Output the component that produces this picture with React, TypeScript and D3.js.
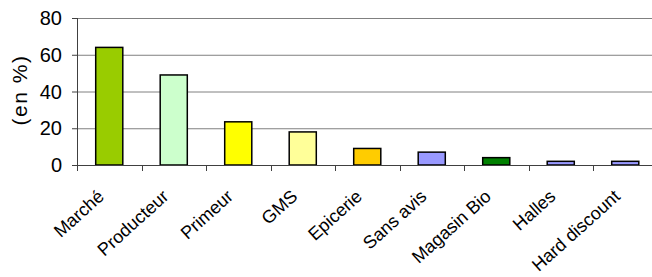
import React, { useRef, useEffect } from 'react';
import * as d3 from 'd3';

const categories = ['Marché', 'Producteur', 'Primeur', 'GMS', 'Epicerie', 'Sans avis', 'Magasin Bio', 'Halles', 'Hard discount'];
const values = [64, 49, 23.5, 18, 9, 7, 4, 2, 2];
const colors = ['#99cc00', '#ccffcc', '#ffff00', '#ffff99', '#ffcc00', '#9999ff', '#008000', '#9999ff', '#9999ff'];
const yTicks = [0, 20, 40, 60, 80];

const W = 652;
const H = 277;
const FONT = 'Arial, "Liberation Sans", sans-serif';

function App() {
    const ref = useRef<SVGSVGElement | null>(null);

    useEffect(() => {
        if (!ref.current) return;
        const svg = d3.select(ref.current);
        svg.selectAll('*').remove();

        const left = 77, right = 657.5, top = 18, bottom = 165;

        const x = d3.scaleBand<string>().domain(categories).range([left, right]);
        const y = d3.scaleLinear().domain([0, 80]).range([bottom, top]);

        // gridlines
        svg.append('g')
            .selectAll('line')
            .data(yTicks.filter(t => t > 0))
            .enter().append('line')
            .attr('x1', left).attr('x2', W)
            .attr('y1', d => y(d) + 0.5).attr('y2', d => y(d) + 0.5)
            .attr('stroke', '#808080').attr('stroke-width', 1);

        // bars
        const bw = x.bandwidth() * 0.42;
        svg.append('g')
            .selectAll('rect')
            .data(categories)
            .enter().append('rect')
            .attr('x', d => (x(d) as number) + (x.bandwidth() - bw) / 2)
            .attr('y', (d, i) => y(values[i]))
            .attr('width', bw)
            .attr('height', (d, i) => y(0) - y(values[i]))
            .attr('fill', (d, i) => colors[i])
            .attr('stroke', '#000').attr('stroke-width', 1.5);

        // y axis
        const yAxis = svg.append('g');
        yAxis.append('line')
            .attr('x1', left + 0.5).attr('x2', left + 0.5)
            .attr('y1', top).attr('y2', bottom)
            .attr('stroke', '#404040');
        yAxis.selectAll('line.tick')
            .data(yTicks)
            .enter().append('line')
            .attr('class', 'tick')
            .attr('x1', left - 5).attr('x2', left)
            .attr('y1', d => y(d) + 0.5).attr('y2', d => y(d) + 0.5)
            .attr('stroke', '#404040');
        yAxis.selectAll('text')
            .data(yTicks)
            .enter().append('text')
            .attr('x', 62).attr('y', d => y(d))
            .attr('dy', '0.36em')
            .attr('text-anchor', 'end')
            .style('font-family', FONT).style('font-size', '20px')
            .text(d => d);

        // y title
        svg.append('text')
            .attr('transform', `translate(27,90) rotate(-90)`)
            .attr('text-anchor', 'middle')
            .style('font-family', FONT).style('font-size', '21px')
            .style('letter-spacing', '1.5px')
            .text('(en %)');

        // x axis
        const xAxis = svg.append('g');
        xAxis.append('line')
            .attr('x1', left).attr('x2', W)
            .attr('y1', bottom + 0.5).attr('y2', bottom + 0.5)
            .attr('stroke', '#404040');
        xAxis.selectAll('line.tick')
            .data(categories)
            .enter().append('line')
            .attr('class', 'tick')
            .attr('x1', d => Math.round(x(d) as number) + 0.5).attr('x2', d => Math.round(x(d) as number) + 0.5)
            .attr('y1', bottom).attr('y2', bottom + 6)
            .attr('stroke', '#404040');
        xAxis.selectAll('text')
            .data(categories)
            .enter().append('text')
            .attr('transform', d => `translate(${(x(d) as number) + x.bandwidth() / 2 - 4},${bottom + 33}) rotate(-42)`)
            .attr('text-anchor', 'end')
            .style('font-family', FONT).style('font-size', '18px')
            .text(d => d);
    }, []);

    return (
        <svg ref={ref} width={W} height={H}
            style={{ position: 'absolute', left: 0, top: 0, background: '#fff' }} />
    );
}

export default App;
